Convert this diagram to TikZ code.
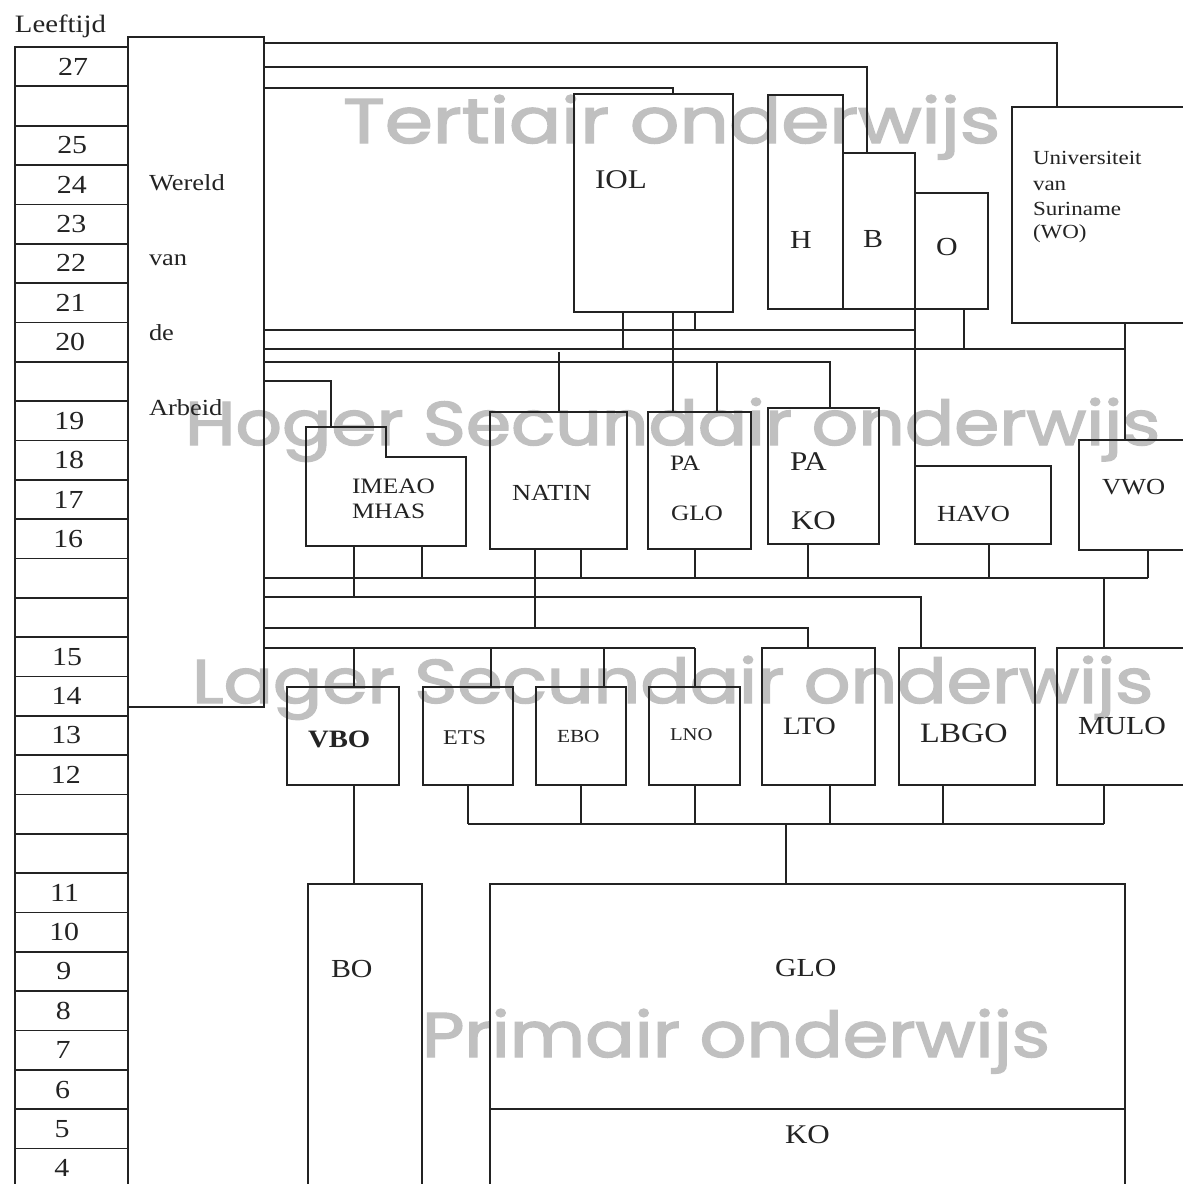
\documentclass[tikz,border=0pt]{standalone}
\usepackage{fontspec}
\setmainfont{Liberation Serif}
\newfontfamily\wmfont[FakeBold=2.2]{Poppins}
\usepackage{graphicx}
\definecolor{ink}{RGB}{35,35,35}
\definecolor{wmgray}{RGB}{192,192,192}
\newcommand\bx[5]{\node[box, anchor=north west, minimum width={(#4-#2)*1pt}, minimum height={(#5-#3)*1pt}] (#1) at (#2,#3) {};}
\begin{document}
\begin{tikzpicture}[x=1pt,y=-1pt,
  ln/.style={draw=ink, line width=1.7pt},
  box/.style={draw=ink, line width=1.7pt, rectangle, inner sep=0pt, outer sep=0pt},
  tx/.style={inner sep=0pt, outer sep=0pt, anchor=base west, xscale=1.15, text=ink, font=\fontsize{#1}{#1}\selectfont},
  wm/.style={inner sep=0pt, outer sep=0pt, anchor=base west, text=wmgray, font=\wmfont}]
\clip (0,0) rectangle (1183,1184);
\fill[white] (0,0) rectangle (1183,1184);

% watermarks
\node[wm] (wmT) at (343,143) {\resizebox{657pt}{48pt}{Tertiair onderwijs}};
\node[wm] (wmH) at (185,445) {\resizebox{975pt}{47pt}{Hoger Secundair onderwijs}};
\node[wm] (wmL) at (192,703) {\resizebox{961pt}{47pt}{Lager Secundair onderwijs}};
\node[wm] (wmP) at (422,1057) {\resizebox{628pt}{48pt}{Primair onderwijs}};

% age column
\foreach \i in {0,...,28}
  \node[box, anchor=north west, minimum width=113pt, minimum height=39.34pt] (age\i) at (15,{47+39.34*\i}) {};
\foreach \i/\l in {0/27,2/25,3/24,4/23,5/22,6/21,7/20,9/19,10/18,11/17,12/16,15/15,16/14,17/13,18/12,21/11,22/10,23/9,24/8,25/7,26/6,27/5,28/4}
  \node[tx=26, anchor=center] (n\i) at ({73-0.4*\i},{47+39.34*(\i+0.5)}) {\l};
\node[tx=25] (leeft) at (15,32) {Leeftijd};

% boxes
\bx{wereld}{128}{37}{264}{707}
\bx{iol}{574}{94}{733}{312}
\bx{h}{768}{95}{843}{309}
\bx{b}{843}{153}{915}{309}
\bx{o}{915}{193}{988}{309}
\bx{univ}{1012}{107}{1195}{323}
\node[inner sep=0pt, outer sep=0pt, anchor=north west, minimum width=160pt, minimum height=119pt] (imeao) at (306,427) {};
\draw[ln] (imeao.north west) -- (386,427) -- (386,457) -- (466,457) -- (imeao.south east) -- (imeao.south west) -- cycle;
\bx{natin}{490}{412}{627}{549}
\bx{paglo}{648}{412}{751}{549}
\bx{pako}{768}{408}{879}{544}
\bx{havo}{915}{466}{1051}{544}
\bx{vwo}{1079}{440}{1195}{550}
\bx{vbo}{287}{687}{399}{785}
\bx{ets}{423}{687}{513}{785}
\bx{ebo}{536}{687}{626}{785}
\bx{lno}{649}{687}{740}{785}
\bx{lto}{762}{648}{875}{785}
\bx{lbgo}{899}{648}{1035}{785}
\bx{mulo}{1057}{648}{1195}{785}
\bx{bo}{308}{884}{422}{1200}
\bx{glo}{490}{884}{1125}{1109}
\bx{ko}{490}{1109}{1125}{1200}

% connectors: tertiary
\draw[ln] (wereld.east |- 0,43) -| (univ.north west -| 1057,0);
\draw[ln] (wereld.east |- 0,67) -| (b.north west -| 867,0);
\draw[ln] (wereld.east |- 0,88) -| (iol.north west -| 673,0);
\draw[ln] (wereld.east |- 0,330) -- (b.south east |- 0,330);
\draw[ln] (iol.south west -| 695,0) -- (695,330);
\draw[ln] (iol.south west -| 623,0) -- (623,349);
\draw[ln] (wereld.east |- 0,349) -- (1125,349);
\draw[ln] (o.south west -| 964,0) -- (964,349);
\draw[ln] (univ.south west -| 1125,0) -- (vwo.north west -| 1125,0);
\draw[ln] (o.south west) -- (havo.north west);
\draw[ln] (iol.south west -| 673,0) -- (paglo.north west -| 673,0);
\draw[ln] (wereld.east |- 0,362) -| (pako.north west -| 830,0);
\draw[ln] (559,352) -- (natin.north west -| 559,0);
\draw[ln] (717,362) -- (paglo.north west -| 717,0);
\draw[ln] (wereld.east |- 0,381) -| (imeao.north west -| 331,0);

% connectors: upper secondary
\draw[ln] (wereld.east |- 0,578) -- (1148,578);
\foreach \n/\x in {imeao/422, natin/581, paglo/695, pako/808, havo/989, vwo/1148}
  \draw[ln] (\n.south west -| \x,0) -- (\x,578);
\draw[ln] (wereld.east |- 0,597) -| (lbgo.north west -| 921,0);
\draw[ln] (imeao.south west -| 354,0) -- (354,597);
\draw[ln] (wereld.east |- 0,628) -| (lto.north west -| 808,0);
\draw[ln] (natin.south west -| 535,0) -- (535,628);
\draw[ln] (wereld.east |- 0,648) -- (695,648);
\foreach \n/\x in {vbo/354, ets/491, ebo/604, lno/695}
  \draw[ln] (\x,648) -- (\n.north west -| \x,0);
\draw[ln] (1104,578) -- (mulo.north west -| 1104,0);

% connectors: lower secondary / primary
\draw[ln] (468,824) -- (1104,824);
\foreach \n/\x in {ets/468, ebo/581, lno/695, lto/830, lbgo/943, mulo/1104}
  \draw[ln] (\n.south west -| \x,0) -- (\x,824);
\draw[ln] (786,824) -- (glo.north west -| 786,0);
\draw[ln] (vbo.south west -| 354,0) -- (bo.north west -| 354,0);

% texts
\node[tx=23] (t1) at (149,190) {Wereld};
\node[tx=23] (t2) at (149,265) {van};
\node[tx=23] (t3) at (149,340) {de};
\node[tx=23] (t4) at (149,415) {Arbeid};
\node[tx=27] (tiol) at (595,188) {IOL};
\node[tx=26, anchor=base] (th) at (801,248) {H};
\node[tx=26, anchor=base] (tb) at (873,247) {B};
\node[tx=26, anchor=base] (to) at (947,255) {O};
\node[tx=20] (u1) at (1033,164) {Universiteit};
\node[tx=20] (u2) at (1033,190) {van};
\node[tx=20] (u3) at (1033,215) {Suriname};
\node[tx=20] (u4) at (1033,238) {(WO)};
\node[tx=22] (ti1) at (352,493) {IMEAO};
\node[tx=22] (ti2) at (352,518) {MHAS};
\node[tx=23] (tnat) at (512,500) {NATIN};
\node[tx=22] (tpa1) at (670,470) {PA};
\node[tx=22] (tgl1) at (671,520) {GLO};
\node[tx=27] (tpa2) at (790,470) {PA};
\node[tx=27] (tko2) at (791,529) {KO};
\node[tx=23] (thavo) at (937,521) {HAVO};
\node[tx=23] (tvwo) at (1102,494) {VWO};
\node[tx=25] (tvbo) at (308,747) {\textbf{VBO}};
\node[tx=21] (tets) at (443,744) {ETS};
\node[tx=18.5] (tebo) at (557,742) {EBO};
\node[tx=18] (tlno) at (670,740) {LNO};
\node[tx=25] (tlto) at (783,734) {LTO};
\node[tx=28] (tlbgo) at (920,742) {LBGO};
\node[tx=26] (tmulo) at (1078,734) {MULO};
\node[tx=26] (tbo) at (331,977) {BO};
\node[tx=26] (tglo) at (775,976) {GLO};
\node[tx=27] (tko) at (785,1143) {KO};
\end{tikzpicture}
\end{document}
